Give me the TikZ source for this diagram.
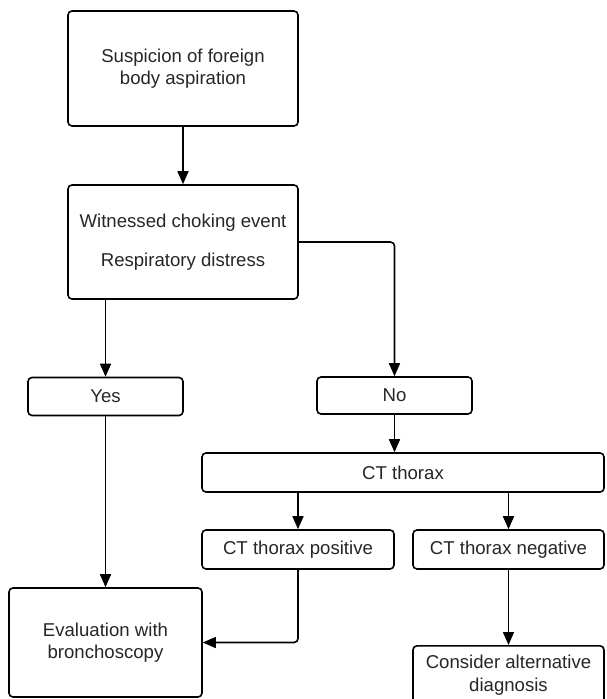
\documentclass[tikz,border=0pt]{standalone}
\usepackage{fontspec}
\setmainfont{Liberation Sans}
\usetikzlibrary{arrows.meta}
\tikzset{
    flowbox/.style={draw, line width=1.6pt, rounded corners=4pt, align=center,
        inner sep=0pt, text=black!85, font=\fontsize{18.6}{22.3}\selectfont},
    flowarrow/.style={line width=1.6pt, rounded corners=4pt,
        -{Triangle[length=13pt,width=11pt]}},
}
\begin{document}
\begin{tikzpicture}[x=1pt,y=-1pt]
    \useasboundingbox (0,0) rectangle (606,699);
    \clip (0,0) rectangle (606,699);
    \node[flowbox, minimum width=230pt, minimum height=115pt] (susp) at (183,68.5) {Suspicion of foreign\\body aspiration};
    \node[flowbox, minimum width=230pt, minimum height=114pt] (witness) at (183,242) {Witnessed choking event\\[17pt]Respiratory distress};
    \node[flowbox, minimum width=155pt, minimum height=38pt] (yes) at (105.5,396.5) {Yes};
    \node[flowbox, minimum width=155pt, minimum height=37pt] (no) at (394.5,395.5) {No};
    \node[flowbox, minimum width=402pt, minimum height=39pt] (ct) at (403,472.5) {CT thorax};
    \node[flowbox, minimum width=192pt, minimum height=39pt] (pos) at (298,549.5) {CT thorax positive};
    \node[flowbox, minimum width=191pt, minimum height=39pt] (neg) at (508.5,549.5) {CT thorax negative};
    \node[flowbox, minimum width=193pt, minimum height=109pt] (eval) at (105.5,642.5) {Evaluation with\\bronchoscopy};
    \node[flowbox, minimum width=191pt, minimum height=59pt, anchor=north] (alt) at (508.5,645) {Consider alternative\\diagnosis};
    \draw[flowarrow] (susp) -- (witness);
    \draw[flowarrow] (witness.south -| yes.north) -- (yes.north);
    \draw[flowarrow] (witness.east) -| (no.north);
    \draw[flowarrow] (no.south) -- (no.south |- ct.north);
    \draw[flowarrow] (pos.north |- ct.south) -- (pos.north);
    \draw[flowarrow] (neg.north |- ct.south) -- (neg.north);
    \draw[flowarrow] (neg) -- (alt);
    \draw[flowarrow] (yes) -- (eval);
    \draw[flowarrow] (pos.south) |- (eval.east);
\end{tikzpicture}
\end{document}
